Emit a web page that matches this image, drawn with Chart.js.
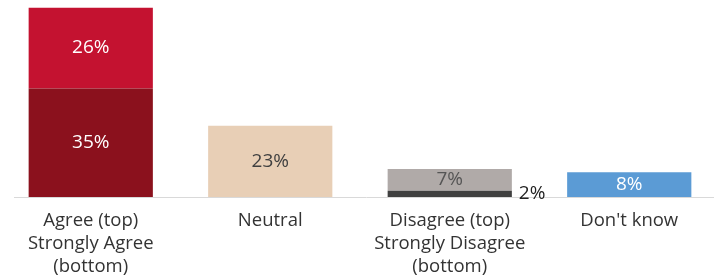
<!DOCTYPE html>
<html>
<head>
<meta charset="utf-8">
<script src="https://cdn.jsdelivr.net/npm/chart.js@4"></script>
<style>
  html, body { margin: 0; padding: 0; background: #fff; overflow: hidden; }
  #wrap { position: absolute; left: 1px; top: 0; width: 718px; height: 278px; }
</style>
</head>
<body>
<div id="wrap"><canvas id="surveyChart" width="718" height="278"></canvas></div>
<script>
// survey-chart.js

const categories = [
  ['Agree (top)', 'Strongly Agree', '(bottom)'],
  'Neutral',
  ['Disagree (top)', 'Strongly Disagree', '(bottom)'],
  "Don't know"
];
const bottomValues = [35, 23, 2, 8];
const topValues = [26, 0, 7, 0];
const bottomColors = ['#8b111d', '#e8cfb6', '#404040', '#5b9bd5'];
const topColors = ['#c41230', '#e8cfb6', '#b0aaa8', '#5b9bd5'];
const bottomLabelColors = ['#ffffff', '#404040', '#222222', '#ffffff'];
const topLabelColors = ['#ffffff', '#404040', '#555555', '#ffffff'];

const FONT = '"Open Sans", "Noto Sans", sans-serif';

// light grey baseline under the bars
const baseline = {
  id: 'baseline',
  beforeDatasetsDraw(chart) {
    const { ctx, chartArea } = chart;
    const y = chart.scales.y.getPixelForValue(0) + 0.5;
    ctx.save();
    ctx.strokeStyle = '#d9d9d9';
    ctx.lineWidth = 1;
    ctx.beginPath();
    ctx.moveTo(13, y);
    ctx.lineTo(chartArea.right, y);
    ctx.stroke();
    ctx.restore();
  }
};

// percentage labels inside (or beside) each segment
const valueLabels = {
  id: 'valueLabels',
  afterDatasetsDraw(chart) {
    const { ctx } = chart;
    ctx.save();
    ctx.font = '19px ' + FONT;
    ctx.textBaseline = 'middle';
    chart.data.datasets.forEach((ds, di) => {
      const meta = chart.getDatasetMeta(di);
      meta.data.forEach((bar, i) => {
        const v = ds.data[i];
        if (!v) return;
        const colors = di === 0 ? bottomLabelColors : topLabelColors;
        ctx.fillStyle = colors[i];
        const mid = (bar.y + bar.base) / 2;
        if (v < 4) {
          // too thin: write it to the right of the bar
          ctx.textAlign = 'left';
          ctx.fillText(v + '%', bar.x + bar.width / 2 + 7, mid);
        } else {
          ctx.textAlign = 'center';
          ctx.fillText(v + '%', bar.x, mid);
        }
      });
    });
    ctx.restore();
  }
};

new Chart(document.getElementById('surveyChart'), {
  type: 'bar',
  data: {
    labels: categories,
    datasets: [
      { label: 'bottom', data: bottomValues, backgroundColor: bottomColors, borderWidth: 0 },
      { label: 'top', data: topValues, backgroundColor: topColors, borderWidth: 0 }
    ]
  },
  options: {
    responsive: false,
    animation: false,
    devicePixelRatio: 1,
    layout: { padding: 0 },
    datasets: { bar: { categoryPercentage: 1, barPercentage: 0.692 } },
    plugins: {
      legend: { display: false },
      tooltip: { enabled: false }
    },
    scales: {
      x: {
        stacked: true,
        grid: { display: false },
        border: { display: false },
        afterFit(scale) { scale.height = 81; },
        ticks: {
          color: '#333333',
          padding: 4,
          maxRotation: 0,
          autoSkip: false,
          font: { family: FONT, size: 18.5, lineHeight: 1.25 }
        }
      },
      y: {
        stacked: true,
        display: false,
        min: 0,
        max: 63.5
      }
    }
  },
  plugins: [baseline, valueLabels]
});
</script>
</body>
</html>
